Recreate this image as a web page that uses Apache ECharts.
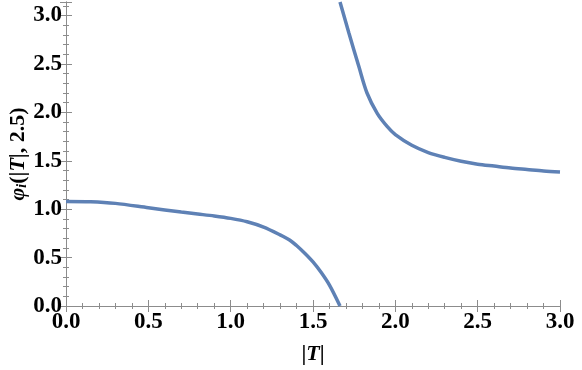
<!DOCTYPE html>
<html>
<head>
<meta charset="utf-8">
<script src="https://cdn.jsdelivr.net/npm/echarts@6/dist/echarts.min.js"></script>
<style>
  html, body { margin: 0; padding: 0; background: #fff; }
  #chart { width: 582px; height: 370px; }
</style>
</head>
<body>
<div id="chart"></div>
<script>
// lower branch (left of the pole)
const lowerX = [0, 0.15, 0.3, 0.5, 0.7, 0.8, 0.9, 1.0, 1.1, 1.2, 1.3, 1.36, 1.4, 1.45, 1.5, 1.55, 1.6, 1.664];
const lowerY = [1.08, 1.077, 1.06, 1.015, 0.97, 0.95, 0.93, 0.905, 0.87, 0.815, 0.735, 0.68, 0.625, 0.545, 0.455, 0.345, 0.215, 0];
// upper branch (right of the pole)
const upperX = [1.664, 1.718, 1.779, 1.828, 1.89, 1.95, 2.0, 2.1, 2.2, 2.3, 2.4, 2.5, 2.6, 2.7, 2.8, 2.9, 3.0];
const upperY = [3.14, 2.82, 2.47, 2.2, 1.99, 1.855, 1.77, 1.66, 1.585, 1.535, 1.495, 1.465, 1.445, 1.425, 1.41, 1.395, 1.385];

const xTicks = [0, 0.5, 1.0, 1.5, 2.0, 2.5, 3.0];
const yTicks = [0, 0.5, 1.0, 1.5, 2.0, 2.5, 3.0];

const lineColor = '#5e81b5';
const frameColor = '#8c8c8c';
const labelFont = { fontFamily: 'Liberation Serif', fontWeight: 'bold', fontSize: 23, color: '#000' };

const chart = echarts.init(document.getElementById('chart'));

function frameAxis(extra) {
  return Object.assign({
    type: 'value',
    axisLine: { show: true, lineStyle: { color: frameColor, width: 1 } },
    axisTick: { show: true, inside: true, length: 6, lineStyle: { color: frameColor } },
    minorTick: { show: true, splitNumber: 5, length: 3, lineStyle: { color: frameColor } },
    splitLine: { show: false },
    minorSplitLine: { show: false }
  }, extra);
}

chart.setOption({
  animation: false,
  backgroundColor: '#fff',
  grid: { left: 66, right: 22, top: 2, bottom: 64, containLabel: false, outerBoundsMode: 'none' },
  xAxis: [
    frameAxis({
      position: 'bottom', min: 0, max: 3, interval: 0.5,
      name: '|{it|T}|', nameLocation: 'middle', nameGap: 37, nameMoveOverlap: false,
      nameTextStyle: {
        fontFamily: 'Liberation Serif', fontWeight: 'bold', fontSize: 22, color: '#000',
        rich: { it: { fontFamily: 'Liberation Serif', fontStyle: 'italic', fontWeight: 'bold', fontSize: 22 } }
      },
      axisLabel: Object.assign({ margin: 5, formatter: v => xTicks.includes(v) ? v.toFixed(1) : '' }, labelFont)
    }),
    frameAxis({
      position: 'top', min: 0, max: 3, interval: 0.5,
      axisLabel: { show: false }
    })
  ],
  yAxis: [
    frameAxis({
      position: 'left', min: 0, max: 3.14, interval: 0.5,
      name: '{it|φ}{sub|i}(|{it|T}|, 2.5)', nameLocation: 'middle', nameGap: 37, nameMoveOverlap: false,
      nameTextStyle: {
        fontFamily: 'Liberation Serif', fontWeight: 'bold', fontSize: 22, color: '#000',
        rich: {
          it: { fontFamily: 'Liberation Serif', fontStyle: 'italic', fontWeight: 'bold', fontSize: 22 },
          sub: { fontFamily: 'Liberation Serif', fontStyle: 'italic', fontSize: 14, padding: [8, 0, 0, 0] }
        }
      },
      axisLabel: Object.assign({ margin: 4, showMaxLabel: false, formatter: v => yTicks.includes(v) ? v.toFixed(1) : '' }, labelFont)
    }),
    frameAxis({
      position: 'right', min: 0, max: 3.14, interval: 0.5,
      axisLabel: { show: false }
    })
  ],
  series: [
    {
      type: 'line',
      data: lowerX.map((x, i) => [x, lowerY[i]]),
      smooth: 0.3,
      symbol: 'none',
      clip: true,
      lineStyle: { color: lineColor, width: 3.5 }
    },
    {
      type: 'line',
      data: upperX.map((x, i) => [x, upperY[i]]),
      smooth: 0.3,
      symbol: 'none',
      clip: true,
      lineStyle: { color: lineColor, width: 3.5 }
    }
  ]
});
</script>
</body>
</html>
